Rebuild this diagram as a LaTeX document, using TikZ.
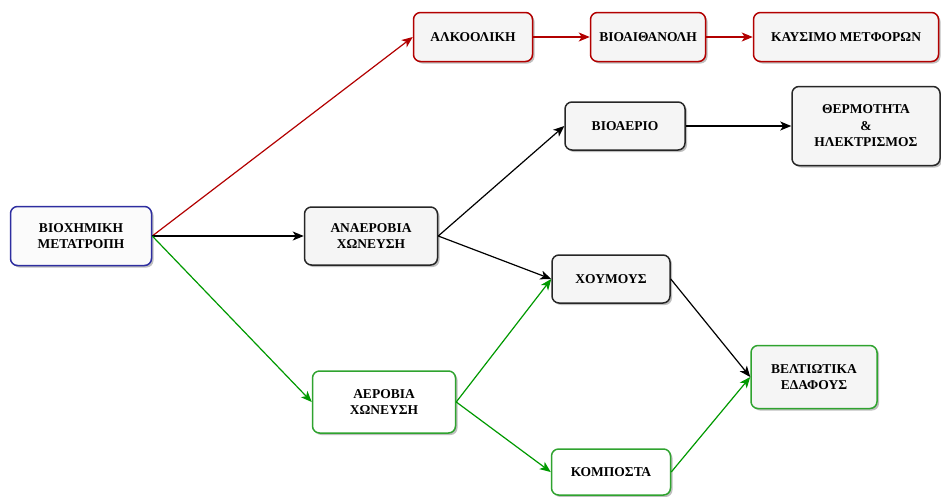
\documentclass[tikz,border=0pt]{standalone}
\usepackage{fontspec}
\setmainfont{Liberation Serif}
\usetikzlibrary{arrows.meta,shadows}
\definecolor{boxfill}{HTML}{F5F5F5}
\definecolor{redline}{HTML}{B20000}
\definecolor{greenline}{HTML}{009900}
\definecolor{greenbox}{HTML}{2FA32F}
\definecolor{blueline}{HTML}{2E2EA0}
\begin{document}
\begin{tikzpicture}[x=1pt,y=-1pt,
  box/.style={draw, line width=1.5pt, rounded corners=7pt, fill=boxfill,
    align=center, inner sep=0pt, font=\fontsize{13.5}{16.5}\selectfont\bfseries,
    drop shadow={shadow xshift=2pt, shadow yshift=-2pt, opacity=0.25, fill=black}},
  redbox/.style={box, draw=redline},
  blackbox/.style={box, draw=black!85},
  greenbx/.style={box, draw=greenbox, fill=white},
  link/.style={line width=1.2pt, -{Stealth[length=11pt,width=9pt,inset=3pt]}},
  redlink/.style={link, draw=redline},
  blacklink/.style={link, draw=black},
  greenlink/.style={link, draw=greenline}]
\useasboundingbox (0,0) rectangle (941,496);

% source node
\node[box, draw=blueline, fill=white!60!boxfill, minimum width=141pt, minimum height=59pt]
  (bio) at (81,236) {ΒΙΟΧΗΜΙΚΗ\\ΜΕΤΑΤΡΟΠΗ};

% alcoholic fermentation chain
\node[redbox, minimum width=119pt, minimum height=49pt] (alk) at (473,37) {ΑΛΚΟΟΛΙΚΗ};
\node[redbox, minimum width=115pt, minimum height=49pt] (eth) at (648,37) {ΒΙΟΑΙΘΑΝΟΛΗ};
\node[redbox, minimum width=185pt, minimum height=49pt] (fuel) at (846,37) {ΚΑΥΣΙΜΟ ΜΕΤΦΟΡΩΝ};

% anaerobic digestion branch
\node[blackbox, minimum width=133pt, minimum height=58pt] (anae) at (371,236) {ΑΝΑΕΡΟΒΙΑ\\ΧΩΝΕΥΣΗ};
\node[blackbox, minimum width=120pt, minimum height=48pt] (gas) at (625,126) {ΒΙΟΑΕΡΙΟ};
\node[blackbox, minimum width=148pt, minimum height=79pt] (heat) at (866,126) {ΘΕΡΜΟΤΗΤΑ\\\&\\ΗΛΕΚΤΡΙΣΜΟΣ};
\node[blackbox, minimum width=118pt, minimum height=48pt] (humus) at (611,279) {ΧΟΥΜΟΥΣ};

% aerobic digestion branch
\node[greenbx, minimum width=143pt, minimum height=62pt] (aero) at (384,402) {ΑΕΡΟΒΙΑ\\ΧΩΝΕΥΣΗ};
\node[greenbx, minimum width=119pt, minimum height=46pt] (comp) at (611,472) {ΚΟΜΠΟΣΤΑ};
\node[box, draw=greenbox, minimum width=126pt, minimum height=63pt] (soil) at (814,377) {ΒΕΛΤΙΩΤΙΚΑ\\ΕΔΑΦΟΥΣ};

% connectors
\draw[redlink] (bio.east) -- (alk.west);
\draw[redlink] (alk.east) -- (eth.west);
\draw[redlink] (eth.east) -- (fuel.west);
\draw[blacklink] (bio.east) -- (anae.west);
\draw[greenlink] (bio.east) -- (aero.west);
\draw[blacklink] (anae.east) -- (gas.west);
\draw[blacklink] (anae.east) -- (humus.west);
\draw[blacklink] (gas.east) -- (heat.west);
\draw[greenlink] (aero.east) -- (humus.west);
\draw[greenlink] (aero.east) -- (comp.west);
\draw[blacklink] (humus.east) -- (soil.west);
\draw[greenlink] (comp.east) -- (soil.west);
\end{tikzpicture}
\end{document}
